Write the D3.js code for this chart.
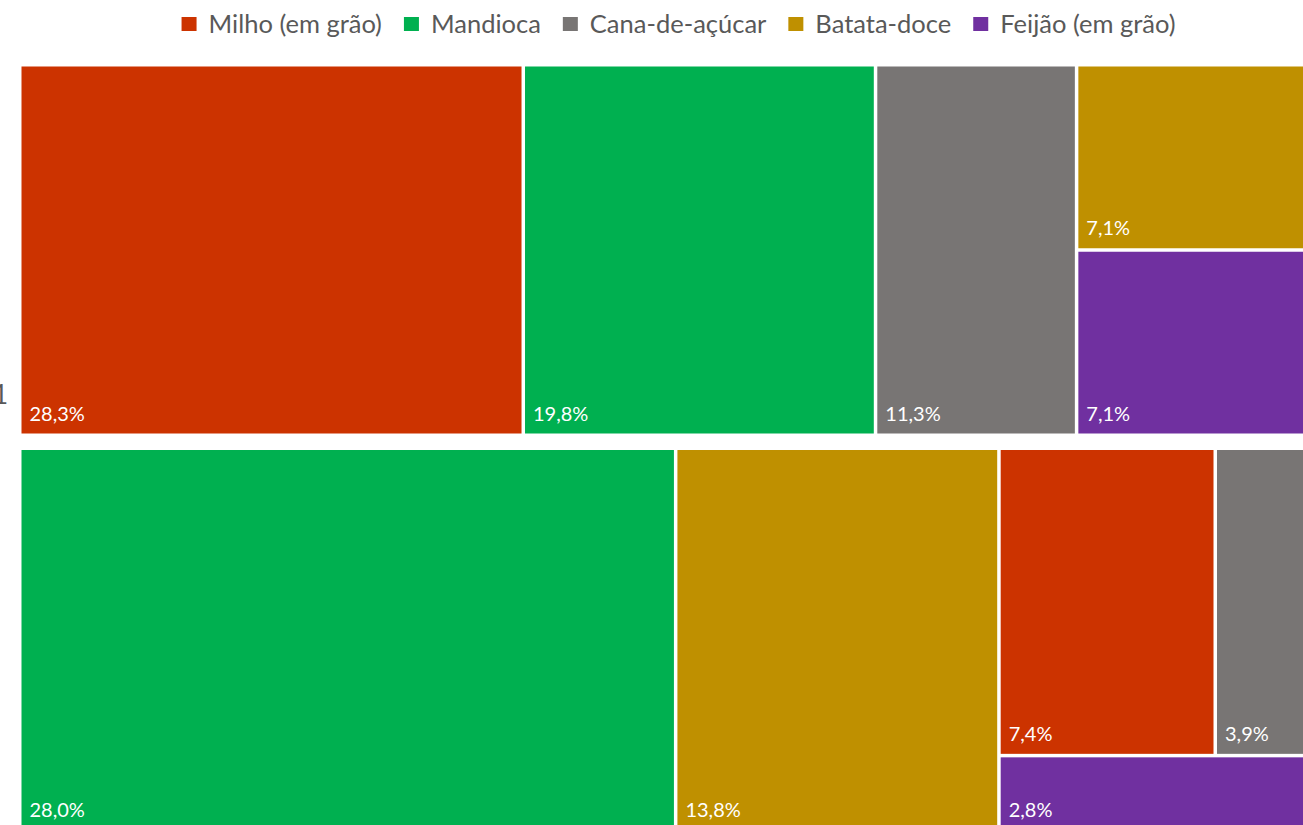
<!DOCTYPE html>
<html>
<head>
    <meta charset="utf-8">
    <script src="https://d3js.org/d3.v7.min.js"></script>
    <style>
        body { margin: 0; background: #ffffff; overflow: hidden; }
        svg { display: block; font-family: Lato, "Open Sans", sans-serif; }
    </style>
</head>
<body>
    <script>

// Categories and colours (legend order)
var categories = ["Milho (em grão)", "Mandioca", "Cana-de-açúcar", "Batata-doce", "Feijão (em grão)"];
var colors = ["#cc3300", "#00b050", "#787574", "#bf9000", "#7030a0"];

// Share of each category, per group (same order as categories)
var groupLabels = ["1", ""];
var group1Values = [28.3, 19.8, 11.3, 7.1, 7.1];
var group2Values = [7.4, 28.0, 3.9, 13.8, 2.8];

// How the cells are tiled: columns -> rows -> category index
var group1Tiles = [[[0]], [[1]], [[2]], [[3], [4]]];
var group2Tiles = [[[1]], [[3]], [[0, 2], [4]]];

var width = 1303, height = 825;
var left = 21.5, plotWidth = 1306;
var rows = [
    { y: 66.5, h: 367, values: group1Values, tiles: group1Tiles, label: groupLabels[0] },
    { y: 450, h: 380, values: group2Values, tiles: group2Tiles, label: groupLabels[1] }
];

var fmt = function(v) { return d3.format(".1f")(v).replace(".", ",") + "%"; };

var svg = d3.select("body").append("svg")
    .attr("width", width)
    .attr("height", height);

// columns side by side, rows stacked, cells side by side
var tile = function(node, x0, y0, x1, y1) {
    (node.depth % 2 === 0 ? d3.treemapDice : d3.treemapSlice)(node, x0, y0, x1, y1);
};

rows.forEach(function(row) {
    var data = {
        children: row.tiles.map(function(col) {
            return { children: col.map(function(r) {
                return { children: r.map(function(i) { return { cat: i, value: row.values[i] }; }) };
            }) };
        })
    };

    var root = d3.hierarchy(data).sum(function(d) { return d.value || 0; });
    d3.treemap().tile(tile).size([plotWidth, row.h]).paddingInner(3.5)(root);

    var g = svg.append("g")
        .attr("transform", "translate(" + left + "," + row.y + ")");

    var cell = g.selectAll("g.cell")
        .data(root.leaves())
        .join("g")
        .attr("class", "cell");

    cell.append("rect")
        .attr("x", function(d) { return d.x0; })
        .attr("y", function(d) { return d.y0; })
        .attr("width", function(d) { return d.x1 - d.x0; })
        .attr("height", function(d) { return d.y1 - d.y0; })
        .attr("fill", function(d) { return colors[d.data.cat]; });

    cell.append("text")
        .attr("x", function(d) { return d.x0 + 8; })
        .attr("y", function(d) { return d.y1 - 13; })
        .attr("fill", "#ffffff")
        .style("font-size", "20px")
        .text(function(d) { return fmt(d.data.value); });

    // group label, mostly outside the visible area
    if (row.label) {
        svg.append("text")
            .attr("x", -7)
            .attr("y", row.y + 337)
            .attr("fill", "#595959")
            .style("font-size", "26px")
            .text(row.label);
    }
});

// Legend, centred above the plot
var legend = svg.append("g");
var items = legend.selectAll("g.item")
    .data(categories)
    .join("g")
    .attr("class", "item");

items.append("rect")
    .attr("width", 15)
    .attr("height", 14)
    .attr("y", 17)
    .attr("fill", function(d, i) { return colors[i]; });

items.append("text")
    .attr("x", 27)
    .attr("y", 33)
    .attr("fill", "#595959")
    .style("font-size", "25.5px")
    .text(function(d) { return d; });

var xPos = 0;
items.each(function() {
    var w = d3.select(this).select("text").node().getComputedTextLength();
    d3.select(this).attr("transform", "translate(" + xPos + ",0)");
    xPos += 27 + w + 22;
});
var legendWidth = xPos - 22;
legend.attr("transform", "translate(" + (678.5 - legendWidth / 2) + ",0)");

    </script>
</body>
</html>
